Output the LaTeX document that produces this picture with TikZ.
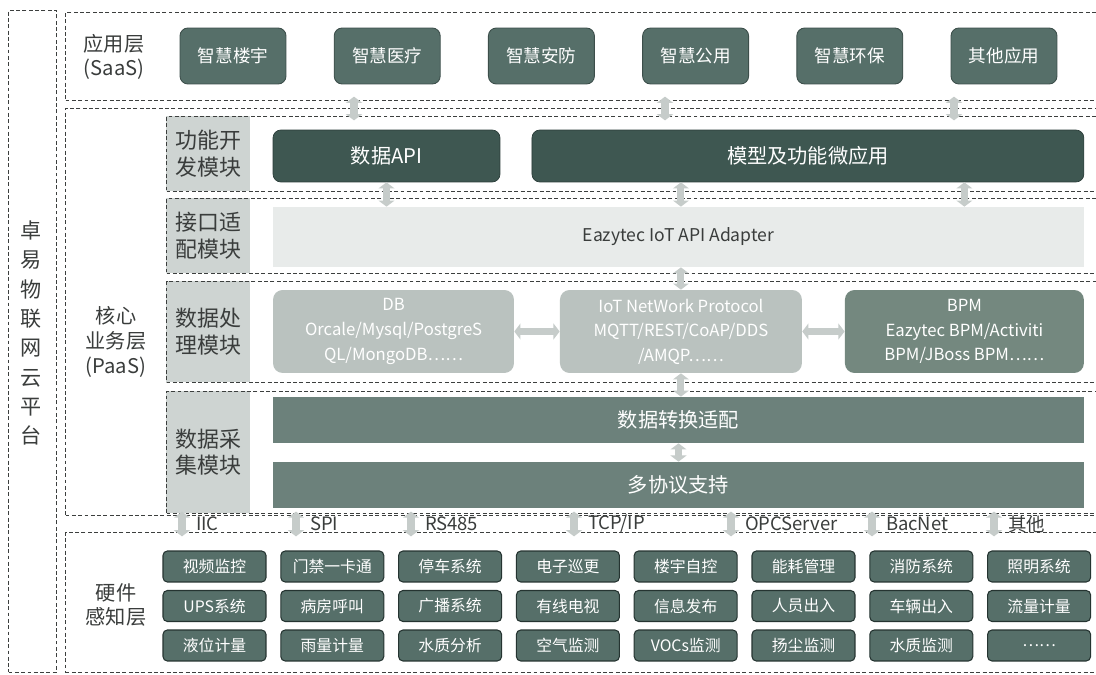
\documentclass[tikz,border=0pt]{standalone}
\usepackage{fontspec}
\setmainfont{Noto Sans CJK SC}
\usetikzlibrary{arrows.meta}

\definecolor{dashgray}{HTML}{3C3F3E}
\definecolor{appgreen}{HTML}{566F69}
\definecolor{darkgreen}{HTML}{3E5751}
\definecolor{midgreen}{HTML}{6C817B}
\definecolor{bpmgreen}{HTML}{74887F}
\definecolor{lightgray}{HTML}{BAC2BF}
\definecolor{palegray}{HTML}{E8EBEA}
\definecolor{labelgray}{HTML}{CED4D2}
\definecolor{arrowgray}{HTML}{C6CCCA}
\definecolor{textgray}{HTML}{3A3D3C}

\begin{document}
\begin{tikzpicture}[x=0.02cm, y=-0.02cm,
layer/.style={rectangle, draw=dashgray, dash pattern=on 2.2pt off 1.4pt, line width=0.6pt, anchor=north west, inner sep=0pt},
modlabel/.style={rectangle, fill=labelgray, anchor=north west, minimum width=1.68cm, inner sep=0pt, align=center, text=textgray, font=\fontsize{12.5}{15}\selectfont},
sidelabel/.style={align=center, text=textgray, font=\fontsize{11.5}{14}\selectfont},
app/.style={rectangle, rounded corners=4.5pt, fill=appgreen, draw=appgreen!70!black, line width=0.5pt, text=white, minimum width=2.12cm, minimum height=1.12cm, font=\fontsize{10}{12}\selectfont},
func/.style={rectangle, rounded corners=4.5pt, fill=darkgreen, draw=darkgreen!70!black, text=white, minimum height=1.04cm, font=\fontsize{11.5}{14}\selectfont},
wide/.style={rectangle, minimum width=16.22cm, text=white, font=\fontsize{11.5}{14}\selectfont},
proc/.style={rectangle, rounded corners=5.5pt, minimum height=1.66cm, text=white, align=center, font=\fontsize{9.5}{14}\selectfont},
hw/.style={rectangle, rounded corners=2.5pt, fill=appgreen, draw=darkgreen!60!black, line width=0.6pt, text=white, minimum width=2.06cm, minimum height=0.62cm, inner sep=0pt, font=\fontsize{9}{11}\selectfont},
dbl/.style={{Triangle[width=9pt,length=3.5pt]}-{Triangle[width=9pt,length=3.5pt]}, draw=arrowgray, line width=4pt},
iface/.style={anchor=west, text=textgray, inner sep=1pt, font=\fontsize{10.5}{12}\selectfont}]
 \useasboundingbox (0,0) rectangle (1096,675);
 \fill[white] (0,0) rectangle (1096,675);
 \clip (0,0) rectangle (1096,675);

 % layers
 \node[layer, minimum width=0.96cm, minimum height=13.24cm] (platform) at (8,10) {};
 \node[layer, minimum width=20.94cm, minimum height=1.76cm] (saas) at (65,12) {};
 \node[layer, minimum width=20.94cm, minimum height=8.14cm] (paas) at (65,108) {};
 \node[layer, minimum width=20.94cm, minimum height=2.8cm] (hwl) at (65,532) {};

 \node[sidelabel, font=\fontsize{12}{16.7}\selectfont] (platlab) at (31,333) {卓\\易\\物\\联\\网\\云\\平\\台};
 \node[sidelabel] (saaslab) at (114,57) {应用层\\(SaaS)};
 \node[sidelabel] (paaslab) at (116,342) {核心\\业务层\\(PaaS)};
 \node[sidelabel] (hwlab) at (116,605) {硬件\\感知层};

 % module rows
 \node[modlabel, minimum height=1.5cm] (lab1) at (166,116) {功能开\\发模块};
 \node[modlabel, minimum height=1.5cm] (lab2) at (166,198) {接口适\\配模块};
 \node[modlabel, minimum height=2.02cm] (lab3) at (166,281) {数据处\\理模块};
 \node[modlabel, minimum height=2.44cm] (lab4) at (166,391) {数据采\\集模块};
 \node[layer, minimum width=18.92cm, minimum height=1.5cm] (row1) at (166,116) {};
 \node[layer, minimum width=18.92cm, minimum height=1.5cm] (row2) at (166,198) {};
 \node[layer, minimum width=18.92cm, minimum height=2.02cm] (row3) at (166,281) {};
 \node[layer, minimum width=18.92cm, minimum height=2.44cm] (row4) at (166,391) {};

 % applications
 \foreach \name [count=\c] in {智慧楼宇,智慧医疗,智慧安防,智慧公用,智慧环保,其他应用}
   \node[app] (app\c) at (78.8+154.2*\c,56) {\name};

 \node[func, minimum width=4.54cm] (dapi) at (386.5,156) {数据API};
 \node[func, minimum width=11.04cm, right of=dapi, node distance=8.43cm] (micro) {模型及功能微应用};
 \node[wide, fill=palegray, text=textgray, minimum height=1.2cm, font=\fontsize{10}{12}\selectfont] (adapter) at (678.5,237) {Eazytec IoT API Adapter};
 \node[proc, fill=lightgray, minimum width=4.82cm] (db) at (393.5,331.5) {DB\\Orcale/Mysql/PostgreS\\QL/MongoDB……};
 \node[proc, fill=lightgray, minimum width=4.84cm, right of=db, node distance=5.75cm] (iot) {IoT NetWork Protocol\\MQTT/REST/CoAP/DDS\\/AMQP……};
 \node[proc, fill=bpmgreen, minimum width=4.78cm, right of=iot, node distance=5.67cm] (bpm) {BPM\\Eazytec BPM/Activiti\\BPM/JBoss BPM……};
 \node[wide, fill=midgreen, minimum height=0.92cm] (conv) at (678.5,420) {数据转换适配};
 \node[wide, fill=midgreen, minimum height=0.92cm, below of=conv, node distance=1.3cm] (multi) {多协议支持};

 % hardware
 \foreach \name [count=\c] in {视频监控,门禁一卡通,停车系统,电子巡更,楼宇自控,能耗管理,消防系统,照明系统}
   \node[hw] (hwa\c) at (96.7+117.8*\c,566.5) {\name};
 \foreach \name [count=\c] in {UPS系统,病房呼叫,广播系统,有线电视,信息发布,人员出入,车辆出入,流量计量}
   \node[hw] (hwb\c) at (96.7+117.8*\c,606) {\name};
 \foreach \name [count=\c] in {液位计量,雨量计量,水质分析,空气监测,VOCs监测,扬尘监测,水质监测,……}
   \node[hw] (hwc\c) at (96.7+117.8*\c,645.5) {\name};

 % connections
 \foreach \x in {354,665,954}
   \draw[dbl, shorten <=-2.5pt, shorten >=-2.5pt] (\x,0 |- saas.south) -- (\x,0 |- row1.north);
 \draw[dbl] (dapi.south) -- (adapter.north -| dapi.south);
 \draw[dbl] (micro.south -| iot.north) -- (adapter.north -| iot.north);
 \draw[dbl] (micro.south -| bpm.north) -- (adapter.north -| bpm.north);
 \draw[dbl] (adapter.south -| iot.north) -- (iot.north);
 \draw[dbl] (db.east) -- (iot.west);
 \draw[dbl] (iot.east) -- (bpm.west);
 \draw[dbl] (iot.south) -- (conv.north -| iot.south);
 \draw[dbl] (conv.south) -- (multi.north);
 \foreach \x/\lbl in {182/IIC, 296/SPI, 411/RS485, 574/{TCP/IP}, 731/OPCServer, 872/BacNet, 994/其他}
   \draw[dbl, shorten <=-2.5pt, shorten >=-2.5pt] (\x,0 |- paas.south) -- (\x,0 |- hwl.north) node[iface, midway, xshift=5pt] {\lbl};
\end{tikzpicture}
\end{document}
